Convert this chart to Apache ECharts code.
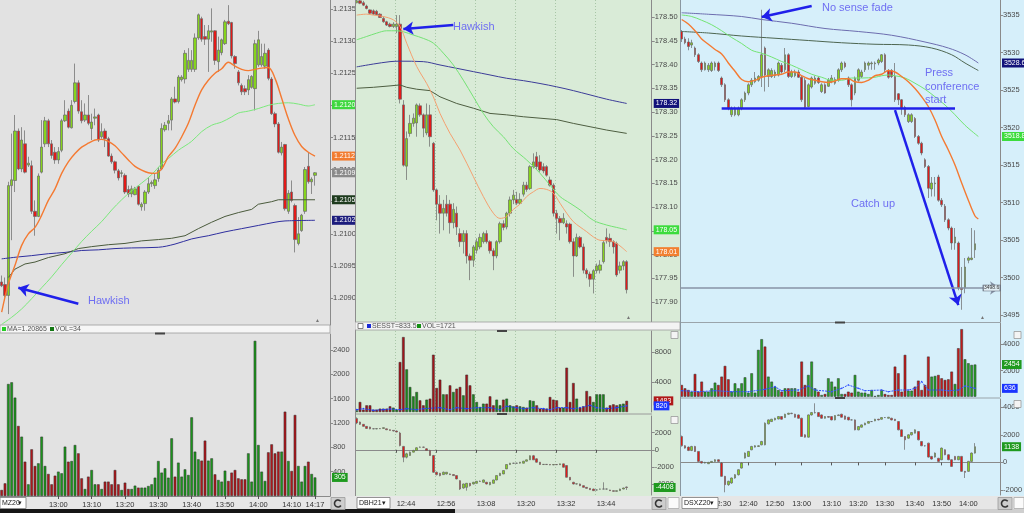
<!DOCTYPE html>
<html><head><meta charset="utf-8">
<script src="https://cdn.jsdelivr.net/npm/echarts@6/dist/echarts.min.js"></script>
<style>
html,body{margin:0;padding:0;width:1024px;height:513px;overflow:hidden;background:#e2e2e2;}
.pane{position:absolute;top:0;height:513px;overflow:hidden;}
#p1{left:0;width:355px;background:#e2e2e2;}
#p2{left:355px;width:325px;background:#d9ebd7;}
#p3{left:680px;width:344px;background:#d6effa;}
</style></head><body>
<div id="p1" class="pane"></div><div id="p2" class="pane"></div><div id="p3" class="pane"></div>
<script>
const FONT = '"Liberation Sans", Arial, sans-serif';

// ================= PANEL 1 (MZ20) =================
const p1TickIndex = [17,27,37,47,57,67,77,87,94];
const p1TickLabel = ['13:00','13:10','13:20','13:30','13:40','13:50','14:00','14:10','14:17'];
const p1PriceLabels = [1.2090,1.2095,1.2100,1.2105,1.2110,1.2115,1.2120,1.2125,1.2130,1.2135];
const p1VolLabels = [400,800,1200,1600,2000,2400];
const p1Candles = [
[1.20925,1.20919,1.20917,1.20935],[1.20921,1.20904,1.20901,1.20932],[1.20904,1.21075,1.20875,1.21081],[1.21075,1.21084,1.20990,1.21156],
[1.21083,1.21160,1.21065,1.21185],[1.21160,1.21101,1.21099,1.21164],[1.21101,1.21146,1.21096,1.21166],[1.21140,1.21096,1.21094,1.21161],
[1.21107,1.21110,1.21104,1.21120],[1.21106,1.21035,1.21031,1.21114],[1.21035,1.21027,1.20997,1.21052],[1.21027,1.21090,1.21026,1.21094],
[1.21096,1.21135,1.21094,1.21177],[1.21140,1.21176,1.21135,1.21182],[1.21176,1.21140,1.21135,1.21179],[1.21140,1.21122,1.21117,1.21146],
[1.21127,1.21115,1.21109,1.21135],[1.21115,1.21128,1.21109,1.21135],[1.21130,1.21176,1.21127,1.21179],[1.21176,1.21185,1.21174,1.21208],
[1.21191,1.21166,1.21164,1.21195],[1.21165,1.21200,1.21164,1.21208],[1.21206,1.21235,1.21203,1.21265],[1.21235,1.21191,1.21187,1.21239],
[1.21190,1.21176,1.21172,1.21208],[1.21177,1.21185,1.21174,1.21203],[1.21185,1.21172,1.21169,1.21216],[1.21164,1.21174,1.21146,1.21187],
[1.21180,1.21182,1.21169,1.21195],[1.21185,1.21146,1.21143,1.21187],[1.21151,1.21159,1.21148,1.21172],[1.21160,1.21148,1.21135,1.21164],
[1.21148,1.21121,1.21120,1.21151],[1.21121,1.21112,1.21109,1.21125],[1.21112,1.21099,1.21094,1.21114],[1.21098,1.21087,1.21083,1.21101],
[1.21094,1.21095,1.21088,1.21099],[1.21091,1.21065,1.21062,1.21094],[1.21069,1.21062,1.21057,1.21075],[1.21062,1.21070,1.21057,1.21075],
[1.21061,1.21070,1.21060,1.21073],[1.21074,1.21046,1.21044,1.21075],[1.21042,1.21046,1.21036,1.21049],[1.21047,1.21065,1.21036,1.21068],
[1.21065,1.21078,1.21062,1.21088],[1.21078,1.21080,1.21073,1.21083],[1.21075,1.21084,1.21070,1.21094],[1.21086,1.21099,1.21081,1.21104],
[1.21101,1.21164,1.21099,1.21172],[1.21162,1.21169,1.21159,1.21174],[1.21172,1.21176,1.21161,1.21185],[1.21177,1.21210,1.21161,1.21213],
[1.21210,1.21205,1.21203,1.21229],[1.21206,1.21244,1.21203,1.21247],[1.21240,1.21244,1.21237,1.21247],[1.21241,1.21281,1.21234,1.21286],
[1.21256,1.21270,1.21252,1.21289],[1.21256,1.21270,1.21252,1.21286],[1.21256,1.21305,1.21252,1.21312],[1.21305,1.21341,1.21302,1.21343],
[1.21335,1.21303,1.21299,1.21338],[1.21307,1.21303,1.21294,1.21325],[1.21303,1.21316,1.21252,1.21325],[1.21314,1.21316,1.21299,1.21351],
[1.21316,1.21270,1.21263,1.21317],[1.21268,1.21286,1.21252,1.21307],[1.21282,1.21302,1.21278,1.21304],[1.21296,1.21330,1.21294,1.21333],
[1.21331,1.21327,1.21325,1.21356],[1.21329,1.21277,1.21273,1.21330],[1.21276,1.21265,1.21257,1.21278],[1.21252,1.21235,1.21231,1.21255],
[1.21231,1.21221,1.21216,1.21234],[1.21226,1.21221,1.21216,1.21231],[1.21224,1.21240,1.21216,1.21247],[1.21228,1.21245,1.21226,1.21247],
[1.21226,1.21296,1.21192,1.21302],[1.21263,1.21302,1.21260,1.21316],[1.21263,1.21276,1.21260,1.21296],[1.21261,1.21281,1.21257,1.21296],
[1.21286,1.21242,1.21239,1.21289],[1.21241,1.21187,1.21185,1.21244],[1.21187,1.21171,1.21166,1.21190],[1.21171,1.21127,1.21125,1.21174],
[1.21126,1.21135,1.21122,1.21143],[1.21139,1.21039,1.21036,1.21140],[1.21035,1.21063,1.21031,1.21068],[1.21065,1.21052,1.21049,1.21083],
[1.21044,1.20991,1.20971,1.21047],[1.20985,1.21000,1.20982,1.21026],[1.21005,1.21029,1.21003,1.21031],[1.21035,1.21100,1.21031,1.21104],
[1.21105,1.21081,1.21078,1.21127],[1.21081,1.21085,1.21062,1.21088],[1.21091,1.21095,1.21075,1.21096]
];
const p1Volume = [99,208,1841,1869,1617,1151,975,564,192,767,493,537,975,493,362,192,334,400,373,811,564,575,838,701,290,115,318,427,192,192,
115,236,236,192,427,192,99,219,115,115,170,137,137,137,164,192,301,575,384,455,301,948,318,548,318,438,345,1293,729,603,
581,910,581,619,356,263,236,416,247,384,427,290,274,274,701,236,2550,838,400,247,718,849,701,729,729,1386,575,411,1332,493,
236,493,564,362,305];
const p1Orange = [[0,1.20878],[2,1.20922],[4,1.20951],[6,1.20982],[8,1.21000],[10,1.21010],[12,1.21029],[14,1.21052],[16,1.21070],[18,1.21094],
[20,1.21112],[22,1.21125],[24,1.21135],[26,1.21141],[28,1.21146],[30,1.21147],[32,1.21144],[34,1.21137],[36,1.21126],[38,1.21115],[40,1.21105],
[42,1.21099],[44,1.21095],[46,1.21094],[48,1.21101],[50,1.21120],[52,1.21133],[54,1.21151],[56,1.21172],[58,1.21200],[60,1.21224],[62,1.21239],
[64,1.21250],[66,1.21257],[68,1.21267],[70,1.21261],[72,1.21256],[74,1.21254],[76,1.21256],[78,1.21258],[80,1.21259],[82,1.21242],[84,1.21211],
[86,1.21179],[88,1.21153],[90,1.21136],[92,1.21127],[94,1.21121]];
const p1Green = [[0,1.20859],[3,1.20870],[6,1.20883],[9,1.20899],[12,1.20916],[15,1.20933],[18,1.20952],[21,1.20970],[24,1.20988],[27,1.21004],
[30,1.21019],[33,1.21037],[36,1.21053],[39,1.21067],[42,1.21079],[45,1.21092],[48,1.21109],[50,1.21117],[53,1.21130],[57,1.21144],[60,1.21159],
[63,1.21169],[66,1.21174],[69,1.21182],[71,1.21188],[74,1.21191],[77,1.21195],[80,1.21200],[83,1.21203],[86,1.21204],[89,1.21202],[92,1.21199],[94,1.21201]];
const p1Olive = [[2,1.20932],[4,1.20945],[7,1.20953],[10,1.20956],[14,1.20963],[19,1.20969],[23,1.20977],[27,1.20980],[32,1.20983],[37,1.20985],
[42,1.20989],[47,1.20991],[51,1.20993],[55,1.20997],[59,1.21008],[63,1.21018],[67,1.21027],[71,1.21033],[75,1.21038],[77,1.21046],[81,1.21050],
[83,1.21053],[87,1.21053],[91,1.21053],[94,1.21053]];
const p1Navy = [[0,1.20961],[5,1.20964],[9,1.20966],[14,1.20969],[19,1.20971],[24,1.20974],[29,1.20975],[34,1.20977],[39,1.20978],[47,1.20979],
[52,1.20984],[57,1.20992],[62,1.20997],[67,1.21003],[72,1.21008],[77,1.21013],[82,1.21018],[85,1.21020],[94,1.21021]];

// ================= PANEL 2 (DBH21) =================
const p2TickIndex = [12,24,36,48,60,72];
const p2TickLabel = ['12:44','12:56','13:08','13:20','13:32','13:44'];
const p2PriceLabels = [177.90,177.95,178.00,178.05,178.10,178.15,178.20,178.25,178.30,178.35,178.40,178.45,178.50];
const p2VolLabels = [4000,8000];
const p2OscLabels = [-4000,-2000,0,2000];
const p2Candles = [
[178.530,178.534,178.529,178.536],[178.534,178.529,178.527,178.536],[178.530,178.525,178.523,178.534],[178.523,178.518,178.516,178.526],
[178.515,178.508,178.506,178.516],[178.513,178.506,178.505,178.516],[178.512,178.505,178.504,178.515],[178.506,178.499,178.498,178.508],
[178.497,178.490,178.488,178.501],[178.490,178.483,178.481,178.492],[178.485,178.480,178.478,178.488],[178.480,178.485,178.477,178.489],
[178.480,178.485,178.466,178.504],[178.485,178.327,178.318,178.504],[178.315,178.188,178.185,178.325],[178.186,178.244,178.157,178.259],
[178.255,178.276,178.248,178.294],[178.276,178.287,178.269,178.297],[178.277,178.315,178.248,178.318],[178.313,178.294,178.290,178.318],
[178.294,178.266,178.247,178.297],[178.256,178.294,178.251,178.318],[178.294,178.248,178.227,178.315],[178.234,178.136,178.132,178.237],
[178.136,178.106,178.072,178.139],[178.106,178.087,178.044,178.125],[178.087,178.097,178.051,178.115],[178.106,178.087,178.080,178.125],
[178.106,178.067,178.044,178.115],[178.067,178.095,178.055,178.108],[178.087,178.058,178.041,178.101],[178.044,178.027,178.016,178.055],
[178.027,178.044,178.002,178.051],[178.044,177.997,177.981,178.051],[177.997,177.988,177.946,178.002],[177.988,178.016,177.974,178.020],
[178.009,178.027,178.002,178.034],[178.016,178.036,178.011,178.044],[178.027,178.044,178.023,178.048],[178.044,178.027,178.023,178.051],
[178.027,178.008,178.002,178.030],[178.008,177.997,177.967,178.013],[177.997,178.027,177.992,178.030],[178.027,178.065,178.023,178.069],
[178.065,178.057,178.051,178.072],[178.058,178.087,178.053,178.090],[178.087,178.115,178.080,178.122],[178.115,178.125,178.106,178.136],
[178.116,178.108,178.104,178.132],[178.108,178.116,178.106,178.129],[178.127,178.146,178.122,178.153],[178.146,178.137,178.132,178.153],
[178.139,178.185,178.136,178.188],[178.185,178.195,178.181,178.213],[178.206,178.185,178.178,178.216],[178.195,178.178,178.174,178.209],
[178.185,178.176,178.171,178.192],[178.185,178.167,178.164,178.188],[178.157,178.146,178.143,178.164],[178.146,178.087,178.080,178.150],
[178.087,178.076,178.044,178.094],[178.076,178.067,178.030,178.081],[178.067,178.076,178.064,178.087],[178.065,178.058,178.044,178.072],
[178.064,178.027,178.023,178.067],[178.027,177.997,177.953,178.034],[177.997,178.036,177.995,178.044],[178.036,178.016,178.013,178.039],
[178.016,177.967,177.960,178.023],[177.967,177.959,177.950,177.971],[177.959,177.948,177.932,177.964],[177.948,177.966,177.918,177.969],
[177.966,177.976,177.960,177.981],[177.967,177.978,177.960,177.988],[177.985,178.025,177.981,178.030],[178.036,178.029,178.023,178.055],
[178.034,178.027,178.016,178.044],[178.027,178.016,178.002,178.030],[178.023,177.957,177.953,178.027],[177.967,177.976,177.960,177.985],
[177.976,177.985,177.967,177.988],[177.985,177.926,177.918,177.988]
];
const p2Volume = [222,1332,311,888,888,311,311,444,444,444,755,577,311,6660,9990,5683,3330,2087,2664,1554,888,1643,1776,7637,3197,4307,2353,2353,3552,2664,
3108,3330,2220,4973,3552,2353,1332,666,1110,1110,2087,888,1643,888,1643,1776,888,755,888,755,666,577,1554,1465,888,444,444,444,1998,1643,
1554,577,577,5905,1332,3863,1776,577,755,2797,2087,1332,2353,2353,2353,577,888,1021,888,1021,1110,1483];
const p2Sesst = [[0,311],[2,444],[5,222],[8,311],[10,400],[13,311],[15,444],[18,311],[20,444],[25,577],[28,311],[30,577],[33,444],[36,577],[40,577],
[43,311],[45,755],[48,577],[50,444],[53,577],[56,444],[58,311],[60,577],[63,577],[65,444],[67,577],[70,888],[72,577],[75,444],[78,577],[81,820]];
const p2Osc = [
[3650,3140,3000,3800],[3250,2980,2900,3300],[2980,2740,2700,3000],[2740,2500,2450,2780],[2670,2450,2400,2700],[2470,2450,2400,2520],
[2450,2480,2400,2520],[2480,2470,2430,2520],[2500,2590,2450,2620],[2450,2350,2300,2480],[2350,2270,2250,2380],[2270,2200,2150,2300],
[2200,2080,2050,2250],[1960,510,400,2100],[392,-862,-1450,450],[-862,-470,-1000,-350],[-666,-274,-700,-200],[-274,-78,-300,0],
[-78,235,-100,300],[300,314,250,380],[314,300,250,360],[118,-78,-120,200],[-78,-666,-700,0],[-666,-2626,-2700,-600],
[-2626,-2901,-3000,-2550],[-2744,-3018,-3100,-2700],[-2901,-2626,-2950,-2550],[-2822,-2626,-2900,-2600],[-2822,-2901,-2950,-2780],
[-2901,-3018,-3050,-2850],[-3018,-3410,-3450,-2990],[-3606,-4586,-4700,-3550],[-4469,-3998,-4550,-3950],[-4390,-3920,-4780,-3880],
[-3920,-4194,-4300,-3880],[-3998,-3802,-4050,-3750],[-3920,-3685,-3950,-3650],[-3685,-3700,-3750,-3600],[-3802,-3528,-3850,-3480],
[-3802,-3998,-4050,-3750],[-4077,-3802,-4150,-3780],[-3920,-3528,-3950,-3500],[-3528,-3018,-3560,-2980],[-3018,-2744,-3050,-2700],
[-2822,-2430,-2850,-2400],[-2234,-1725,-2260,-1700],[-1725,-1568,-1750,-1530],[-1568,-1580,-1620,-1520],[-1580,-1560,-1620,-1520],
[-1560,-1450,-1600,-1420],[-1568,-1333,-1600,-1300],[-1333,-1176,-1360,-1150],[-1176,-700,-1200,-650],[-700,-1176,-1200,-600],
[-1058,-1450,-1500,-1000],[-1450,-1725,-1760,-1420],[-1725,-1700,-1760,-1680],[-1700,-1725,-1760,-1680],[-1725,-1764,-1800,-1700],
[-1764,-1725,-1800,-1700],[-1725,-1740,-1780,-1700],[-1740,-1646,-1780,-1620],[-1646,-2038,-2080,-1620],[-1842,-3214,-3250,-1800],
[-3214,-3528,-3560,-3180],[-3802,-3998,-4050,-3750],[-3998,-3980,-4050,-3950],[-3998,-4194,-4250,-3960],[-4194,-4390,-4420,-4150],
[-4390,-4508,-4550,-4350],[-4508,-4665,-4700,-4480],[-4586,-4782,-4820,-4550],[-4704,-4690,-4750,-4650],[-4600,-4586,-4650,-4550],
[-4586,-4590,-4620,-3800],[-4590,-4586,-4640,-4550],[-4700,-4782,-4820,-4680],[-4782,-4861,-4900,-4750],[-4861,-4782,-4900,-4750],
[-4782,-4586,-4820,-4550],[-4586,-4469,-4620,-4430],[-4350,-4408,-4700,-4300]
];
const p2Orange = [[0,178.504],[3,178.506],[5,178.504],[8,178.501],[11,178.494],[13,178.480],[15,178.445],[18,178.396],[21,178.360],[23,178.332],
[25,178.297],[28,178.255],[31,178.220],[35,178.164],[38,178.122],[41,178.087],[43,178.076],[45,178.080],[47,178.095],[49,178.106],[51,178.122],
[53,178.132],[55,178.139],[57,178.137],[59,178.129],[61,178.108],[63,178.087],[65,178.069],[67,178.058],[69,178.048],[71,178.037],[73,178.030],
[75,178.029],[77,178.027],[79,178.018],[81,178.006]];
const p2Green = [[0,178.452],[3,178.459],[6,178.466],[9,178.471],[12,178.471],[14,178.469],[17,178.462],[20,178.455],[23,178.445],[26,178.424],
[29,178.399],[32,178.367],[35,178.332],[38,178.297],[41,178.269],[44,178.248],[47,178.223],[51,178.199],[55,178.171],[58,178.146],[61,178.122],
[64,178.108],[67,178.094],[71,178.072],[75,178.062],[78,178.057],[81,178.052]];
const p2Navy = [[0,178.395],[5,178.401],[10,178.406],[13,178.407],[20,178.406],[25,178.399],[30,178.392],[35,178.385],[40,178.378],[45,178.371],
[50,178.366],[55,178.360],[60,178.353],[65,178.345],[70,178.336],[75,178.327],[81,178.318]];
const p2Olive = [[0,178.350],[5,178.352],[10,178.355],[13,178.357],[15,178.352],[18,178.348],[22,178.345],[25,178.332],[30,178.318],[35,178.308],
[40,178.297],[45,178.294],[50,178.290],[55,178.287],[60,178.284],[65,178.276],[70,178.269],[75,178.262],[81,178.255]];

// ================= PANEL 3 (DSXZ20) =================
const p3TickIndex = [12,20,28,36,45,53,61,70,78,86];
const p3TickLabel = ['12:30','12:40','12:50','13:00','13:10','13:20','13:30','13:40','13:50','14:00'];
const p3PriceLabels = [3495,3500,3505,3510,3515,3520,3525,3530,3535];
const p3VolLabels = [2000,4000];
const p3OscLabels = [-2000,0,2000,4000];
const p3Candles = [
[3532.8,3531.8,3531.4,3533.0],[3531.8,3531.3,3531.1,3532.1],[3531.4,3530.8,3530.3,3531.9],[3531.0,3531.3,3530.6,3531.7],
[3530.6,3529.7,3529.4,3530.8],[3529.7,3528.8,3528.6,3529.9],[3528.6,3527.7,3527.4,3528.8],[3527.7,3528.6,3527.6,3528.8],
[3527.7,3528.3,3527.4,3528.6],[3527.6,3528.6,3527.4,3528.8],[3528.1,3528.6,3527.6,3528.8],[3528.6,3527.6,3527.4,3528.8],
[3526.6,3525.7,3525.4,3526.8],[3525.7,3523.7,3523.4,3525.9],[3523.7,3522.6,3522.3,3523.9],[3521.7,3522.6,3521.4,3522.8],
[3521.7,3522.6,3521.5,3522.8],[3521.7,3522.6,3521.5,3522.8],[3522.6,3523.7,3522.3,3523.9],[3523.7,3524.6,3523.4,3524.8],
[3524.6,3525.7,3524.3,3525.9],[3525.7,3526.3,3525.4,3526.6],[3526.1,3526.6,3525.9,3527.4],[3526.3,3526.8,3526.1,3527.0],
[3526.8,3529.7,3525.4,3535.7],[3530.6,3527.0,3524.8,3530.8],[3526.8,3527.7,3525.4,3527.9],[3526.8,3527.6,3526.6,3527.9],
[3526.9,3527.4,3526.6,3527.7],[3527.0,3528.6,3526.8,3528.8],[3528.3,3527.4,3527.2,3528.6],[3527.7,3529.7,3527.4,3530.6],
[3529.7,3526.8,3526.6,3529.9],[3526.8,3527.4,3526.6,3527.7],[3526.9,3527.4,3526.7,3527.7],[3527.4,3526.7,3526.6,3527.7],
[3526.7,3523.7,3523.4,3526.9],[3526.3,3522.7,3522.6,3526.6],[3522.8,3525.7,3522.7,3525.9],[3525.4,3526.6,3525.2,3526.8],
[3525.9,3526.6,3525.7,3526.9],[3526.6,3526.0,3525.8,3526.8],[3524.8,3525.7,3524.6,3525.9],[3525.7,3524.6,3524.5,3525.9],
[3525.5,3526.3,3525.4,3526.6],[3526.1,3526.6,3525.9,3527.0],[3525.9,3526.4,3525.7,3526.7],[3526.3,3527.7,3526.1,3527.9],
[3527.7,3528.6,3527.4,3528.8],[3528.6,3528.1,3527.9,3528.8],[3526.6,3525.7,3525.4,3526.8],[3525.7,3523.7,3522.8,3525.9],
[3524.6,3526.6,3524.3,3526.8],[3526.3,3527.7,3526.1,3527.9],[3526.8,3527.4,3526.6,3527.7],[3527.7,3528.6,3527.4,3528.8],
[3528.3,3528.6,3527.7,3528.8],[3528.5,3528.6,3527.7,3528.8],[3528.5,3528.6,3527.7,3528.8],[3528.6,3529.0,3528.3,3529.2],
[3528.8,3529.7,3528.6,3529.8],[3529.7,3527.7,3527.4,3529.9],[3527.6,3526.7,3526.5,3527.8],[3527.6,3526.8,3526.6,3527.8],
[3526.8,3523.7,3523.4,3528.6],[3524.5,3523.7,3523.0,3524.6],[3523.7,3522.6,3521.7,3523.8],[3522.7,3521.7,3521.4,3522.9],
[3520.8,3521.7,3520.6,3521.9],[3520.8,3521.7,3520.6,3521.9],[3521.2,3518.8,3518.6,3521.4],[3518.8,3517.9,3517.7,3519.0],
[3517.9,3516.6,3516.3,3518.1],[3515.7,3514.8,3514.6,3515.9],[3514.8,3511.9,3510.6,3515.0],[3511.8,3512.6,3510.8,3513.4],
[3512.5,3512.6,3510.8,3513.4],[3513.4,3510.3,3510.1,3513.7],[3510.3,3509.7,3509.4,3510.6],[3509.5,3507.7,3507.4,3509.8],
[3507.7,3506.6,3506.3,3507.9],[3506.6,3504.6,3503.7,3506.8],[3504.6,3505.4,3503.7,3506.6],[3504.6,3498.6,3498.3,3504.8],
[3498.6,3498.4,3495.7,3501.4],[3498.6,3501.4,3497.9,3502.6],[3502.3,3502.6,3501.9,3502.8],[3502.4,3502.6,3502.3,3506.6],
[3503.7,3504.5,3502.6,3506.3]
];
const p3Volume = [893,638,510,383,1734,383,1148,383,383,638,1071,893,1530,2346,1326,383,1020,638,1020,1479,306,1785,306,3570,4386,3825,1530,1148,765,510,
383,638,638,638,638,383,2678,893,1658,2678,638,383,128,204,1403,1148,765,1403,204,204,383,306,1658,383,306,306,204,510,51,128,
510,204,128,128,2295,1785,383,3188,459,459,765,1224,510,893,3060,1530,1581,1658,1403,1275,1326,1913,969,3698,5151,2856,2550,2423,2454];
const p3VolAvg = [[0,459],[5,383],[10,459],[15,383],[20,383],[25,561],[28,765],[30,459],[35,510],[38,816],[40,510],[45,383],[48,638],[50,893],
[53,638],[55,459],[60,510],[62,383],[65,510],[68,510],[70,638],[72,1148],[74,510],[78,510],[80,459],[83,510],[85,816],[88,636]];
const p3Osc = [
[1880,1205,1150,1950],[1205,1036,1000,1250],[1109,868,820,1150],[868,1157,820,1200],[1157,795,760,1200],[795,72,40,820],[72,-48,-80,100],
[-48,0,-80,40],[-96,0,-120,40],[0,72,-40,100],[72,193,40,230],[193,72,40,230],[-48,-1012,-1050,0],[-1012,-1615,-2169,-980],
[-1615,-1374,-1700,-1330],[-1494,-1133,-1550,-1100],[-1133,-892,-1180,-850],[-892,-530,-950,-500],[-410,-48,-450,0],[313,675,280,720],
[434,795,400,830],[916,1157,880,1200],[1109,1205,1080,1250],[1157,1205,1120,1240],[1277,1518,1240,1560],[1277,2844,1240,2900],
[2796,3085,2760,3120],[2964,3133,2930,3160],[3085,3205,3050,3240],[3157,3326,3120,3360],[3326,3133,3100,3360],[3254,3495,3220,3530],
[3495,3567,3460,3600],[3567,3540,3500,3600],[3495,3278,3250,3530],[3446,3205,3180,3480],[3205,1880,1850,3240],[2000,1832,1800,2040],
[1832,3446,1800,3480],[3446,3615,3400,3660],[3615,3600,3550,4290],[3615,3326,3300,3650],[3446,3205,3180,3480],[3205,3326,3180,3360],
[3326,3280,3250,3360],[3326,3085,3050,3360],[3085,3398,3050,3430],[3398,3446,3380,3480],[3495,3278,3250,3530],[3374,3133,3100,3400],
[3278,3085,3050,3300],[3085,3085,3050,3120],[3085,2362,2330,3120],[2362,2603,2330,2640],[2555,2723,2530,2760],[2723,2844,2700,2880],
[2844,2964,2820,3000],[2964,2964,2930,3000],[3013,3133,2990,3160],[3133,3085,3050,3160],[3133,3254,3100,3280],[3254,3254,3220,3290],
[3205,3278,3180,3300],[3205,3085,3050,3240],[3133,3037,3000,3160],[2964,2362,2330,3000],[2362,1880,1850,2400],[1880,1639,916,1900],
[1760,2000,1720,2040],[2000,2169,1960,2200],[2121,2362,2100,2400],[2241,1639,1600,2280],[1518,1205,1180,1550],[1205,1205,1150,1250],
[1398,386,350,1430],[434,241,200,470],[386,675,350,720],[300,72,40,330],[193,1036,160,1080],[916,554,520,950],[554,193,160,590],
[193,-289,-320,230],[434,193,160,470],[193,434,160,470],[434,-651,-690,470],[-651,-723,-1133,-620],[-651,72,-690,110],[72,675,40,720],
[675,1138,640,1400]
];
const p3Orange = [[0,3534.4],[2,3533.8],[4,3532.9],[6,3531.8],[8,3531.1],[10,3530.4],[12,3529.8],[14,3528.6],[16,3527.5],[18,3526.4],[20,3526.1],
[22,3526.3],[24,3526.7],[26,3526.9],[28,3527.0],[30,3527.1],[32,3527.4],[34,3527.4],[36,3526.9],[38,3526.5],[40,3526.3],[42,3526.1],[44,3526.0],
[46,3526.2],[48,3526.5],[50,3526.5],[52,3526.1],[54,3526.0],[56,3526.3],[58,3526.9],[60,3527.1],[62,3527.6],[64,3527.4],[66,3526.8],[68,3526.1],
[70,3525.2],[72,3524.1],[74,3522.8],[76,3521.0],[78,3518.8],[80,3517.0],[82,3515.0],[84,3512.6],[86,3510.3],[88,3508.2],[89,3507.8]];
const p3Green = [[0,3535.0],[3,3534.8],[6,3534.3],[9,3533.7],[12,3532.9],[15,3532.0],[18,3531.2],[21,3530.3],[24,3529.9],[27,3529.4],[30,3528.8],
[33,3528.3],[36,3527.7],[39,3527.1],[42,3526.7],[45,3526.3],[48,3526.3],[51,3526.6],[54,3526.6],[58,3526.7],[60,3526.9],[62,3527.0],[64,3526.9],
[67,3526.6],[70,3525.9],[73,3525.1],[76,3524.1],[79,3523.0],[82,3521.7],[85,3520.3],[89,3518.8]];
const p3Navy = [[0,3535.3],[8,3535.1],[18,3534.8],[24,3534.4],[33,3533.9],[43,3533.2],[53,3532.8],[63,3532.3],[73,3531.4],[80,3530.6],[85,3529.7],[89,3528.6]];
const p3Olive = [[0,3532.8],[8,3532.6],[18,3532.2],[28,3531.9],[38,3531.6],[48,3531.3],[58,3531.1],[68,3531.0],[75,3530.6],[81,3529.7],[85,3528.6],[89,3527.6]];
const p3Support = 3522.6;
const p3Low = 3498.6;

// ================= helpers =================
function cats(n, idx, lab){ const a=[]; for(let i=0;i<n;i++) a.push(''); idx.forEach((k,j)=>{a[k]=lab[j];}); return a; }
function grid(top, width, height){ return {left:0, top:top, width:width, height:height, outerBoundsMode:'none', containLabel:false}; }
function yax(g, min, max, labels, fmt){
  return {type:'value', gridIndex:g, position:'right', min:min, max:max,
    axisLine:{show:true, lineStyle:{color:'#8a8a8a', width:1}},
    axisTick:{show:true, length:3, customValues:labels, lineStyle:{color:'#8a8a8a'}},
    axisLabel:{show:true, customValues:labels, formatter:fmt, fontSize:7.5, color:'#4a4a4a', margin:3, fontFamily:FONT},
    splitLine:{show:false}};
}
function xHidden(g, data, split){
  return {type:'category', gridIndex:g, data:data, axisLine:{show:false}, axisTick:{show:false}, axisLabel:{show:false},
    splitLine:{show:!!split, interval:split||0, lineStyle:{color:'#a8c6a6', type:[1,2], width:1}}};
}
function xTime(g, data, idx, align, split){
  return {type:'category', gridIndex:g, data:data,
    axisLine:{show:true, lineStyle:{color:'#8a8a8a'}},
    axisTick:{show:true, alignWithLabel:true, length:3, interval:(i)=>idx.indexOf(i)>=0, lineStyle:{color:'#555'}},
    axisLabel:{interval:0, fontSize:7.5, color:'#333', margin:5, fontFamily:FONT, align:align||'center'},
    splitLine:{show:!!split, interval:split||0, lineStyle:{color:'#a8c6a6', type:[1,2], width:1}}};
}
function candle(xi, yi, data, w, extra){
  return Object.assign({type:'candlestick', xAxisIndex:xi, yAxisIndex:yi, data:data, barWidth:w, silent:true,
    itemStyle:{color:'#86d41c', color0:'#e31a18', borderColor:'#676767', borderColor0:'#676767', borderWidth:0.7},
    emphasis:{disabled:true}}, extra||{});
}
function line(xi, yi, data, color, width, smooth, extra){
  return Object.assign({type:'line', xAxisIndex:xi, yAxisIndex:yi, data:data, symbol:'none', smooth:smooth?0.35:false, silent:true, z:3,
    lineStyle:{color:color, width:width}, emphasis:{disabled:true}}, extra||{});
}
function volBars(xi, yi, vols, candles, up, down, extra){
  return Object.assign({type:'bar', xAxisIndex:xi, yAxisIndex:yi, barWidth:2.6, silent:true,
    data:vols.map((v,i)=>({value:v, itemStyle:{color:(candles[i] && candles[i][1] < candles[i][0]) ? down : up}})),
    itemStyle:{borderColor:'#2b2b2b', borderWidth:0.5}, emphasis:{disabled:true}}, extra||{});
}
const HIDDEN_LINE = {color:'rgba(0,0,0,0)', width:0.01, opacity:1};
function tag(v, bg, text, fg){
  return {yAxis:v, symbol:'none', lineStyle:HIDDEN_LINE,
    label:{show:true, position:'end', distance:2, formatter:text, backgroundColor:bg, color:fg||'#fff', opacity:1,
    fontSize:7, fontFamily:FONT, padding:[1,2,0,2], lineHeight:8}};
}
function tagLine(tags){
  return {silent:true, precision:6, symbol:['none','none'], lineStyle:HIDDEN_LINE, emphasis:{disabled:true}, animation:false, data:tags};
}
function arrow(a, b, color, width){
  return [{coord:a, lineStyle:{color:color, width:width, type:'solid'}}, {coord:b}];
}
const ARROW = '#2020ea';
const NOTE = '#6f6ff2';
function txt(x, y, s, size, color){
  return {type:'text', x:x, y:y, z:100, style:{text:s, fill:color||NOTE, fontSize:size||11, fontFamily:FONT, verticalAlign:'middle'}};
}
function rect(x, y, w, h, fill, stroke, z){
  return {type:'rect', z:(z==null?100:z), shape:{x:x,y:y,width:w,height:h}, style:{fill:fill, stroke:stroke||null, lineWidth:stroke?0.8:0}};
}
function hline(x1, x2, y, color, z){
  return {type:'line', z:(z==null?50:z), shape:{x1:x1,y1:y,x2:x2,y2:y}, style:{stroke:color, lineWidth:1}};
}
function refresh(x, y){
  return [rect(x, y, 14, 12, '#cdcdcd', '#9a9a9a'),
    {type:'arc', z:101, shape:{cx:x+7, cy:y+6, r:3.5, startAngle:0.6, endAngle:5.6}, style:{stroke:'#333', lineWidth:1.6, fill:null}}];
}
function dropdown(x, y, w, s){
  return [rect(x, y, w, 11, '#ffffff', '#7a7a7a'), txt(x+2, y+5.5, s, 7, '#222'), txt(x+w-8, y+5.5, '\u25BE', 7, '#222')];
}
function lastY(arr){ return arr[arr.length-1][1]; }
function last(arr){ return arr[arr.length-1]; }

// ================= chart 1 =================
const c1 = echarts.init(document.getElementById('p1'), null, {width:355, height:513});
const p1Cats = cats(99, p1TickIndex, p1TickLabel);
const p1Last = last(p1Candles)[1];
c1.setOption({
  animation:false,
  grid:[grid(0,330,325), grid(334,330,162)],
  xAxis:[xHidden(0, p1Cats), xTime(1, p1Cats, p1TickIndex)],
  yAxis:[yax(0, 1.20858, 1.21364, p1PriceLabels, v=>v.toFixed(5)), yax(1, 0, 2663, p1VolLabels, v=>String(v))],
  series:[
    line(0,0,p1Navy,'#2e2e9e',1,true,{markLine:tagLine([tag(lastY(p1Navy),'#1b1b7c',lastY(p1Navy).toFixed(5))])}),
    line(0,0,p1Olive,'#4a5a3c',1,false,{markLine:tagLine([tag(lastY(p1Olive),'#1d3a1d',lastY(p1Olive).toFixed(5))])}),
    line(0,0,p1Green,'#7be87b',1,true,{markLine:tagLine([tag(lastY(p1Green),'#3fd83f',lastY(p1Green).toFixed(5))])}),
    line(0,0,p1Orange,'#f47a32',1.4,true,{markLine:tagLine([tag(lastY(p1Orange),'#f27c30',lastY(p1Orange).toFixed(5))])}),
    candle(0,0,p1Candles,2.6,{z:2, markLine:{silent:true, precision:6, symbol:['none','arrow'], symbolSize:10, label:{show:false}, emphasis:{disabled:true},
      data:[arrow([22.9,1.20891],[4.6,1.20916],ARROW,2.5), tag(p1Last,'#8a8a8a',p1Last.toFixed(5))]}}),
    volBars(1,1,p1Volume,p1Candles,'#1c9a1c','#b3171b',{markLine:tagLine([tag(last(p1Volume),'#1f9a1f',String(last(p1Volume)))])})
  ],
  graphic:{elements:[
    rect(0,496.5,355,13,'#e6e6e6',null,-1),
    rect(0,509,355,4,'#161616',null,100),
    rect(0,325,330,8,'#f6f6f6','#9c9c9c'),
    rect(2,327,4,4,'#25cc25',null,101), txt(7,329.2,'MA=1.20865',7,'#555'),
    rect(50,327,4,4,'#127712',null,101), txt(55,329.2,'VOL=34',7,'#555'),
    rect(155,332.5,10,2,'#444',null,101),
    txt(315,321,'\u25B2',5,'#777'),
    ...dropdown(0,497.5,26,'MZ20'),
    ...refresh(331,497.5),
    txt(88,301,'Hawkish',11)
  ]}
});

// ================= chart 2 =================
const c2 = echarts.init(document.getElementById('p2'), null, {width:325, height:513});
const p2Cats = cats(89, p2TickIndex, p2TickLabel);
const p2Split = (i)=>p2TickIndex.indexOf(i)>=0;
c2.setOption({
  animation:false,
  grid:[grid(0,296.7,322), grid(331,296.7,81), grid(416,296.7,79)],
  xAxis:[xHidden(0,p2Cats,p2Split), xHidden(1,p2Cats,p2Split), xTime(2,p2Cats,p2TickIndex,'left',p2Split)],
  yAxis:[yax(0,177.8579,178.5358,p2PriceLabels,v=>v.toFixed(2)), yax(1,0,10800,p2VolLabels,v=>String(v)), yax(2,-5287,3953,p2OscLabels,v=>String(v))],
  series:[
    line(0,0,p2Navy,'#3c3c98',1,true,{markLine:tagLine([tag(lastY(p2Navy),'#12127a',lastY(p2Navy).toFixed(2))])}),
    line(0,0,p2Olive,'#4d5d40',1,false),
    line(0,0,p2Green,'#74e274',1,true,{markLine:tagLine([tag(lastY(p2Green),'#3cdc3c',lastY(p2Green).toFixed(2))])}),
    line(0,0,p2Orange,'#f4a070',1,true,{markLine:tagLine([tag(lastY(p2Orange),'#f28030',lastY(p2Orange).toFixed(2))])}),
    candle(0,0,p2Candles,2.6,{markLine:{silent:true, precision:6, symbol:['none','arrow'], symbolSize:10, label:{show:false}, emphasis:{disabled:true},
      data:[arrow([28.6,178.483],[13.9,178.475],ARROW,2.5)]}}),
    volBars(1,1,p2Volume,p2Candles,'#1a8c1a','#a8141a',{markLine:tagLine([tag(last(p2Volume),'#b01818',String(last(p2Volume)))])}),
    line(1,1,p2Sesst,'#2040ff',1,false,{symbol:'circle', symbolSize:1.6, itemStyle:{color:'#2040ff'}, lineStyle:{color:'#2040ff', width:1, type:[2,1]},
      markLine:tagLine([tag(lastY(p2Sesst),'#1a35ff',String(lastY(p2Sesst)))])}),
    candle(2,2,p2Osc,2.4,{markLine:tagLine([tag(last(p2Osc)[1],'#1f9a1f',String(last(p2Osc)[1]))])})
  ],
  graphic:{elements:[
    rect(0,496,325,13,'#e7e7e7',null,-1),
    rect(0,509,100,4,'#161616',null,100), rect(100,509,225,4,'#d0d0d0',null,100),
    {type:'line', z:100, shape:{x1:0.5,y1:0,x2:0.5,y2:496}, style:{stroke:'#8d8d8d', lineWidth:1}},
    rect(0,322,325,8,'#f3f3f3','#9c9c9c'),
    rect(3,323.5,5,5,'#ffffff','#666',101), txt(3.6,326.2,'x',6,'#444'),
    rect(12,324,4,4,'#1a2ad8',null,101), txt(17,326.2,'SESST=833.5',7,'#555'),
    rect(62,324,4,4,'#129012',null,101), txt(67,326.2,'VOL=1721',7,'#555'),
    rect(142,330,10,2,'#444',null,101),
    hline(0,297,414,'#9a9a9a',40), rect(142,413,10,2,'#444',null,101),
    rect(316,331.5,7,7,'#f4f4f4','#999',101), txt(317.3,335.2,'A',6,'#444'),
    rect(316,416.5,7,7,'#f4f4f4','#999',101), txt(317.3,420.2,'A',6,'#444'),
    txt(271,318,'\u25B2',5,'#777'),
    ...dropdown(2,497.5,33,'DBH21'),
    ...refresh(297,497.5),
    rect(313,497.5,11,11,'#fafafa','#aaa'),
    txt(98,27,'Hawkish',11)
  ]}
});

// ================= chart 3 =================
const c3 = echarts.init(document.getElementById('p3'), null, {width:344, height:513});
const p3Cats = cats(96, p3TickIndex, p3TickLabel);
c3.setOption({
  animation:false,
  grid:[grid(0,320,322), grid(323,320,73.7), grid(399,320,96)],
  xAxis:[xHidden(0,p3Cats), xHidden(1,p3Cats), xTime(2,p3Cats,p3TickIndex)],
  yAxis:[yax(0,3494.07,3537,p3PriceLabels,v=>String(v)), yax(1,0,5623,p3VolLabels,v=>String(v)), yax(2,-2366,4601,p3OscLabels,v=>String(v))],
  series:[
    line(0,0,p3Navy,'#6c6cae',1,true,{markLine:tagLine([tag(lastY(p3Navy),'#12127a',lastY(p3Navy).toFixed(1))])}),
    line(0,0,p3Olive,'#4d6550',1,true),
    line(0,0,p3Green,'#72e472',1,true,{markLine:tagLine([tag(lastY(p3Green),'#3cdc3c',lastY(p3Green).toFixed(1))])}),
    line(0,0,p3Orange,'#f47a32',1.4,true),
    candle(0,0,p3Candles,2.4,{
      markLine:{silent:true, precision:6, symbol:['none','arrow'], symbolSize:10, label:{show:false}, emphasis:{disabled:true},
        data:[
          arrow([39.4,3536.2],[24.4,3534.73],ARROW,2.5),
          arrow([63.5,3522.33],[82.7,3496.33],ARROW,2.5),
          [{coord:[12.4,p3Support], symbol:'none', lineStyle:{color:ARROW, width:2.5, type:'solid'}},{coord:[82.1,p3Support], symbol:'none'}],
          {yAxis:p3Low, symbol:'none', lineStyle:{color:'#8793a6', width:1.6, type:'solid'}}
        ]},
      markPoint:{silent:true, data:[{coord:[93.2,p3Low], symbol:'rect', symbolSize:[17,6], itemStyle:{color:'#e2eef4', borderColor:'#5a6070', borderWidth:0.6},
        label:{show:true, formatter:p3Low.toFixed(1), fontSize:5, color:'#333', fontFamily:FONT}}]}
    }),
    volBars(1,1,p3Volume,p3Candles,'#27a427','#c81b1b',{markLine:tagLine([tag(last(p3Volume),'#1f9a1f',String(last(p3Volume)))])}),
    line(1,1,p3VolAvg,'#3050ff',1,false,{symbol:'circle', symbolSize:1.6, itemStyle:{color:'#3050ff'}, lineStyle:{color:'#3050ff', width:1, type:[2,1]},
      markLine:tagLine([tag(lastY(p3VolAvg),'#1a35ff',String(lastY(p3VolAvg)))])}),
    candle(2,2,p3Osc,2.2,{markLine:tagLine([tag(last(p3Osc)[1],'#1f9a1f',String(last(p3Osc)[1]))])})
  ],
  graphic:{elements:[
    rect(0,496,344,13,'#e6e6e6',null,-1),
    rect(0,509,344,4,'#cfcfcf',null,100),
    {type:'line', z:100, shape:{x1:0.5,y1:0,x2:0.5,y2:496}, style:{stroke:'#8a97a0', lineWidth:1}},
    hline(0,320,322.5,'#9aa4aa',40), rect(155,321.5,10,2,'#444',null,101),
    hline(0,320,398,'#9aa4aa',40), rect(155,397,10,2,'#444',null,101),
    rect(334,331.5,7,7,'#f4f4f4','#999',101), txt(335.3,335.2,'A',6,'#444'),
    rect(334,400.5,7,7,'#f4f4f4','#999',101), txt(335.3,404.2,'A',6,'#444'),
    txt(300,318,'\u25B2',5,'#777'),
    ...dropdown(2,497.5,36,'DSXZ20'),
    ...refresh(318,497.5),
    rect(334,497.5,10,11,'#fafafa','#aaa'),
    txt(142,8,'No sense fade',11),
    txt(245,73,'Press',11), txt(245,87,'conference',11), txt(245,100,'start',11),
    txt(171,204,'Catch up',11)
  ]}
});
</script></body></html>
